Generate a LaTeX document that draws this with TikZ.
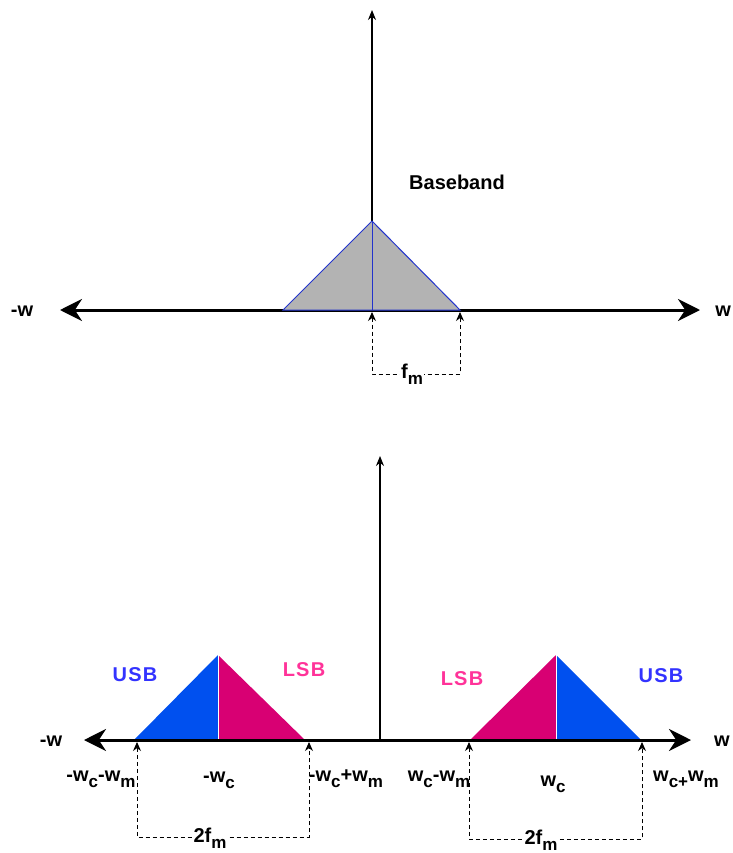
\documentclass[tikz,border=0pt]{standalone}
\usepackage{fontspec}
\setmainfont{Liberation Sans}
\usetikzlibrary{arrows.meta}
\definecolor{usbfill}{HTML}{0050EF}
\definecolor{lsbfill}{HTML}{D80073}
\definecolor{usbtext}{HTML}{3333FF}
\definecolor{lsbtext}{HTML}{FF3399}
\definecolor{bbfill}{HTML}{B3B3B3}
\definecolor{bbline}{HTML}{2233CC}
\newcommand{\sbs}[1]{\raisebox{-0.3em}{\fontsize{17}{17}\selectfont #1}}
\newcommand{\lsp}{\kern1.2pt}
\begin{document}
\begin{tikzpicture}[x=1pt,y=-1pt,
  lbl/.style={font=\fontsize{20}{20}\selectfont\bfseries, inner sep=0pt},
  haxis/.style={line width=3pt, {Stealth[length=22pt,width=22pt]}-{Stealth[length=22pt,width=22pt]}},
  vaxis/.style={line width=1.2pt, -{Stealth[length=10pt,width=8pt]}},
  dimline/.style={dashed, dash pattern=on 4pt off 3pt, line width=0.9pt, {Stealth[length=9pt,width=8pt]}-{Stealth[length=9pt,width=8pt]}},
  dimlabel/.style={lbl, fill=white, inner xsep=1pt, inner ysep=0pt}
]
\useasboundingbox (0,0) rectangle (732,853);

% ---------- top: baseband ----------
\coordinate (tAxL) at (60,310);
\coordinate (tAxR) at (700,310);
\coordinate (tO) at (372,310);
\coordinate (tUp) at (372,10);
\coordinate (tA) at (372,221);
\coordinate (tBL) at (283,310);
\coordinate (tBR) at (460,310);

\draw[haxis] (tAxL) -- (tAxR);
\draw[vaxis] (tO) -- (tUp);
\filldraw[fill=bbfill, draw=bbline, line width=1pt] (tBL) -- (tA) -- (tBR) -- cycle;
\draw[bbline, line width=1pt] (tA) -- (tO);

\node[lbl, anchor=center] (tmw) at (22,311) {-w};
\node[lbl, anchor=east] (tw) at (731,311) {w};
\node[lbl] (bb) at (457,182) {Baseband};

\coordinate (tD1) at (372,312);
\coordinate (tD2) at (460,312);
\coordinate (tDy) at (0,374);
\draw[dimline] (tD1) -- (tD1 |- tDy) -- (tD2 |- tDy) -- (tD2);
\node[dimlabel] (fm) at (412,374) {f\sbs{m}};

% ---------- bottom: DSB ----------
\coordinate (bAxL) at (84,740);
\coordinate (bAxR) at (691,740);
\coordinate (bO) at (380,740);
\coordinate (bUp) at (380,456);

\coordinate (lL) at (134,740);
\coordinate (lA) at (218,655);
\coordinate (lM) at (218,740);
\coordinate (lR) at (305,740);
\coordinate (rL) at (470,740);
\coordinate (rA) at (556,655);
\coordinate (rM) at (556,740);
\coordinate (rR) at (641,740);

\fill[usbfill] (lL) -- (lA) -- (lM) -- cycle;
\fill[lsbfill] (lM) -- (lA) -- (lR) -- cycle;
\fill[lsbfill] (rL) -- (rA) -- (rM) -- cycle;
\fill[usbfill] (rM) -- (rA) -- (rR) -- cycle;
\draw[white, line width=1pt] (lA) -- (lM);
\draw[white, line width=1pt] (rA) -- (rM);

\draw[haxis] (bAxL) -- (bAxR);
\draw[vaxis] (bO) -- (bUp);

\node[lbl, text=usbtext] (usbL) at (135,675) {U\lsp S\lsp B};
\node[lbl, text=lsbtext] (lsbL) at (304,670) {L\lsp S\lsp B};
\node[lbl, text=lsbtext] (lsbR) at (462,679) {L\lsp S\lsp B};
\node[lbl, text=usbtext] (usbR) at (661,676) {U\lsp S\lsp B};

\node[lbl] (bmw) at (51,741) {-w};
\node[lbl] (bw) at (722,741) {w};

\node[lbl, anchor=base] (n1) at (101,781) {-w\sbs{c}-w\sbs{m}};
\node[lbl, anchor=base] (n2) at (219,782) {-w\sbs{c}};
\node[lbl, anchor=base] (n3) at (346,781) {-w\sbs{c}+w\sbs{m}};
\node[lbl, anchor=base] (n4) at (439,781) {w\sbs{c}-w\sbs{m}};
\node[lbl, anchor=base] (n5) at (553,786) {w\sbs{c}};
\node[lbl, anchor=base] (n6) at (686,781) {w\sbs{c+}w\sbs{m}};

\coordinate (lD1) at (137,742);
\coordinate (lD2) at (309,742);
\coordinate (lDy) at (0,837);
\draw[dimline] (lD1) -- (lD1 |- lDy) -- (lD2 |- lDy) -- (lD2);
\node[dimlabel] (f2L) at (210,838) {2f\sbs{m}};

\coordinate (rD1) at (469,742);
\coordinate (rD2) at (642,742);
\coordinate (rDy) at (0,839);
\draw[dimline] (rD1) -- (rD1 |- rDy) -- (rD2 |- rDy) -- (rD2);
\node[dimlabel] (f2R) at (541,840) {2f\sbs{m}};
\end{tikzpicture}
\end{document}
